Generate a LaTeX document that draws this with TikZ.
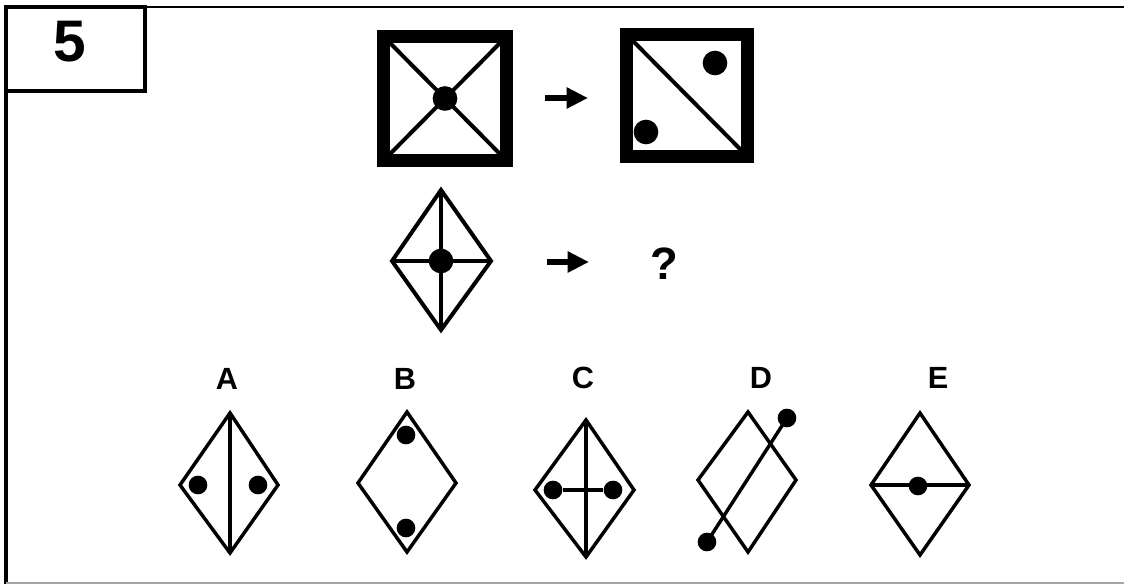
\documentclass[tikz,border=0pt]{standalone}
\usepackage{fontspec}
\setmainfont{Liberation Sans}
\usetikzlibrary{arrows.meta}
\begin{document}
\begin{tikzpicture}[x=0.75pt,y=-0.75pt,
  fig/.style={line width=3pt,line join=miter},
  optfig/.style={line width=2.6pt,line join=miter},
  thickframe/.style={line width=9.75pt,line join=miter},
  bigdot/.style={circle,fill=black,inner sep=0pt,minimum size=18.5pt},
  smalldot/.style={circle,fill=black,inner sep=0pt,minimum size=14pt},
  lbl/.style={font=\bfseries\fontsize{23}{23}\selectfont},
  thinarrow/.style={line width=5pt,-{Triangle[length=16pt,width=15pt]}}]
\useasboundingbox (0,0) rectangle (1124,584);
% outer frame
\draw[line width=2pt] (6,7) -- (1124,7);
\draw[line width=2.4pt] (6,7) -- (6,584);
\draw[line width=1.5pt,gray!70] (6,583) -- (1124,583);
% number box
\draw[line width=2.4pt,fill=white] (6,7) rectangle (145,91);
\node[font=\bfseries\fontsize{44}{44}\selectfont] (num) at (70,42) {5};
% top left square
\draw[thickframe] (383.5,36.5) rectangle (506.5,160.5);
\coordinate (s1a) at (390,43); \coordinate (s1b) at (500,43);
\coordinate (s1c) at (500,154); \coordinate (s1d) at (390,154);
\draw[fig] (s1a) -- (s1c); \draw[fig] (s1b) -- (s1d);
\node[bigdot] (s1dot) at (445,98.5) {};
% top arrow
\coordinate (ar1s) at (545,98); \coordinate (ar1e) at (588,98);
\draw[thinarrow] (ar1s) -- (ar1e);
% top right square
\draw[thickframe] (626.5,34.5) rectangle (747.5,156.5);
\coordinate (s2a) at (633,41); \coordinate (s2c) at (741,150);
\draw[fig] (s2a) -- (s2c);
\node[bigdot] (s2dot1) at (715,63) {};
\node[bigdot] (s2dot2) at (646,132) {};
% middle diamond
\coordinate (mt) at (441,190); \coordinate (mb) at (441,330);
\coordinate (ml) at (392,261); \coordinate (mr) at (491,261);
\draw[fig] (mt) -- (mr) -- (mb) -- (ml) -- cycle;
\draw[fig] (mt) -- (mb); \draw[fig] (ml) -- (mr);
\node[bigdot] (mdot) at (441,261) {};
% middle arrow
\coordinate (ar2s) at (547,262); \coordinate (ar2e) at (589,262);
\draw[thinarrow] (ar2s) -- (ar2e);
\node[font=\bfseries\fontsize{34}{34}\selectfont] (q) at (664,264) {?};
% option labels
\node[lbl] (la) at (227,379) {A};
\node[lbl] (lb) at (405,379) {B};
\node[lbl] (lc) at (583,378) {C};
\node[lbl] (ld) at (761,378) {D};
\node[lbl] (le) at (938,378) {E};
% A
\coordinate (at) at (230,413); \coordinate (ab) at (230,553);
\coordinate (al) at (180,485); \coordinate (ar) at (278,485);
\draw[optfig] (at) -- (ar) -- (ab) -- (al) -- cycle;
\draw[optfig] (at) -- (ab);
\node[smalldot] (ad1) at (198,485) {};
\node[smalldot] (ad2) at (258,485) {};
% B
\coordinate (bt) at (407,412); \coordinate (bb) at (407,552);
\coordinate (bl) at (358,483); \coordinate (br) at (456,483);
\draw[optfig] (bt) -- (br) -- (bb) -- (bl) -- cycle;
\node[smalldot] (bd1) at (406,435) {};
\node[smalldot] (bd2) at (406,528) {};
% C
\coordinate (ct) at (586,420); \coordinate (cb) at (586,557);
\coordinate (cl) at (535,490); \coordinate (cr) at (634,490);
\draw[optfig] (ct) -- (cr) -- (cb) -- (cl) -- cycle;
\draw[optfig] (ct) -- (cb);
\node[smalldot] (cd1) at (553,490) {};
\node[smalldot] (cd2) at (613,490) {};
\draw[optfig] (cd1) -- (cd2);
% D
\coordinate (dt) at (748,412); \coordinate (db) at (748,552);
\coordinate (dl) at (698,480); \coordinate (dr) at (796,480);
\draw[optfig] (dt) -- (dr) -- (db) -- (dl) -- cycle;
\node[smalldot] (dd1) at (787,418) {};
\node[smalldot] (dd2) at (707,542) {};
\draw[optfig] (dd1.center) -- (dd2.center);
% E
\coordinate (et) at (920,413); \coordinate (eb) at (920,555);
\coordinate (el) at (871,485); \coordinate (er) at (969,485);
\draw[optfig] (et) -- (er) -- (eb) -- (el) -- cycle;
\draw[optfig] (el) -- (er);
\node[smalldot] (ed) at (918,486) {};
\end{tikzpicture}
\end{document}
